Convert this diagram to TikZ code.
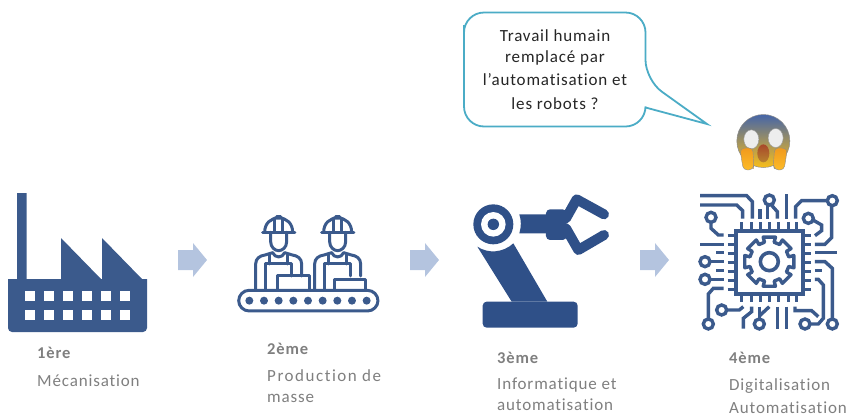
\documentclass[tikz,border=0pt]{standalone}
\usepackage{fontspec}
\setmainfont{Carlito}
\newfontfamily\lblfont[LetterSpace=5,Ligatures=NoCommon]{Carlito}
\newfontfamily\lblwide[LetterSpace=9,Ligatures=NoCommon]{Carlito}
\usetikzlibrary{calc}
\definecolor{icon}{HTML}{3B5A8C}
\definecolor{robotc}{HTML}{2F5088}
\definecolor{arrowc}{HTML}{B4C4DF}
\definecolor{lbl}{HTML}{7F7F7F}
\definecolor{bub}{HTML}{4BACC6}
\definecolor{emtop}{HTML}{4565A8}
\definecolor{emmid}{HTML}{F5C820}
\definecolor{embot}{HTML}{F9BE18}
\definecolor{emhand}{HTML}{F09A1E}
\definecolor{emhandb}{HTML}{FDBB28}
\definecolor{emmouth}{HTML}{A8482A}
\definecolor{emmouthb}{HTML}{B8822E}
\tikzset{
  lab/.style={inner sep=0pt,anchor=base west,text=lbl,font=\lblfont\fontsize{17}{18}\selectfont},
  labw/.style={lab,font=\lblwide\fontsize{17}{18}\selectfont},
  labb/.style={lab,font=\lblfont\bfseries\fontsize{16.5}{18}\selectfont},
  blockarrow/.style={fill=arrowc,draw=none},
  wline/.style={draw=icon,line width=3pt,line join=round,line cap=round,fill=none},
  cline/.style={draw=icon,line width=3.4pt,line join=miter,fill=none},
  cpin/.style={draw=icon,line width=3pt},
  bubtext/.style={inner sep=0pt,text=black!85,font=\lblfont\fontsize{17}{18}\selectfont}
}
\newcommand{\worker}[1]{%
\begin{scope}[shift={(#1,0)}]
  \draw[wline] (128,127) -- (225,127);
  \draw[wline] (134,127) .. controls (134,100) and (152,84) .. (176,84) .. controls (200,84) and (218,100) .. (218,127);
  \draw[wline] (165,127) -- (165,84);
  \draw[wline] (187,127) -- (187,84);
  \draw[wline] (170,78) -- (182,78);
  \draw[wline] (152,127) -- (152,155) .. controls (152,172) and (165,182) .. (176,182) .. controls (187,182) and (200,172) .. (200,155) -- (200,127);
  \draw[wline] (107,298) -- (107,222) .. controls (107,205) and (120,197) .. (135,195) -- (158,188) .. controls (165,205) and (187,205) .. (194,188) -- (217,195) .. controls (232,197) and (245,205) .. (245,222) -- (245,258);
  \draw[wline] (137,298) -- (137,222) -- (215,222) -- (215,258);
  \draw[wline] (150,195) -- (150,222);
  \draw[wline] (203,195) -- (203,222);
\end{scope}}
\begin{document}
\begin{tikzpicture}[x=1pt,y=-1pt]
\useasboundingbox (0,0) rectangle (852,416);
% factory
\fill[icon] (17,193) -- (26.5,193) -- (26.5,279) -- (61,279) -- (61,238) -- (101,279) -- (102,279) -- (102,238) -- (142,279) -- (147,279) -- (147,328) arc[start angle=0,end angle=90,radius=4] -- (12,332) arc[start angle=90,end angle=180,radius=4] -- (8,279) -- (17,279) -- cycle;
\foreach \x in {25,44,63,82,101,120}
  \foreach \y in {291,310}
    \fill[white] (\x,\y) rectangle ++(10,10);
% block arrows
\foreach \n/\x in {a/178,b/410,c/640}
  \fill[blockarrow] (\x,250) -- ++(15,0) -- ++(0,-7) -- ++(14,17) -- ++(-14,17) -- ++(0,-7) -- ++(-15,0) -- cycle;
% workers
\begin{scope}[shift={(220,190)},x=0.3333pt,y=-0.3333pt]
  \worker{0}
  \worker{177}
  \draw[wline] (172,298) -- (172,258) -- (268,258) -- (268,298);
  \draw[wline] (343,298) -- (343,270) -- (437,270) -- (437,298);
  \draw[draw=icon,line width=3pt,rounded corners=10.5pt] (56,301) rectangle (474,363);
  \foreach \x in {88,132,176,220,264,308,352,396,440}
    \fill[icon] (\x,332) circle[radius=4pt];
\end{scope}
% robot
\begin{scope}[shift={(460,180)},x=0.3333pt,y=-0.3333pt]
  \fill[robotc] (100,133) circle[radius=20pt];
  \fill[white] (100,133) circle[radius=12.3pt];
  \fill[robotc] (100,133) circle[radius=5.7pt];
  \fill[robotc] (52,200) .. controls (85,222) and (130,218) .. (160,190) -- (262,365) -- (155,365) -- cycle;
  \fill[robotc,rounded corners=4pt] (68,365) rectangle (353,443);
  \fill[robotc] (178,103) -- (262,103) -- (262,160) -- (178,160) .. controls (184,140) and (184,122) .. (178,103) -- cycle;
  \fill[robotc,rounded corners=4pt] (258,88) rectangle (320,180);
  \draw[robotc,line width=10pt,line cap=round,line join=round] (318,115) -- (350,58) -- (432,103);
  \draw[robotc,line width=10pt,line cap=round,line join=round] (318,145) -- (355,210) -- (432,165);
\end{scope}
% chip
\begin{scope}[shift={(690,190)},x=0.3333pt,y=-0.3333pt]
  \draw[cline,line width=4pt] (137,122) rectangle (338,313);
  \foreach \x in {155,183,211,239,267,295,320} {
    \draw[cpin] (\x,97) -- (\x,116);
    \draw[cpin] (\x,319) -- (\x,336);
  }
  \foreach \y in {135,163,190,217,245,272,300} {
    \draw[cpin] (113,\y) -- (131,\y);
    \draw[cpin] (344,\y) -- (362,\y);
  }
  % gear
  \draw[icon,line width=3.6pt] (238,215) circle[radius=9pt];
  \foreach \a in {0,45,...,315}
    \draw[cline,line width=3.4pt,line join=round,line cap=round]
      ($(238,215)+(\a-31:60)$) -- ($(238,215)+(\a-14:60)$) -- ($(238,215)+(\a-14:76)$) -- ($(238,215)+(\a+14:76)$) -- ($(238,215)+(\a+14:60)$);
  % traces
  \draw[cline] (30,17) -- (170,17) -- (187,35) -- (187,86);
  \draw[cline] (30,45) -- (140,45) -- (158,62) -- (158,86);
  \draw[cline] (238,30) circle[radius=5pt];
  \draw[cline] (232,46) -- (232,86);
  \draw[cline] (245,46) -- (262,65) -- (262,86);
  \draw[cline] (210,58) -- (210,86);
  \draw[cline] (290,12) -- (290,86);
  \draw[cline] (427,32) circle[radius=5pt];
  \draw[cline] (412,32) -- (335,32) -- (317,50) -- (317,86);
  \draw[cline] (63,82) circle[radius=5pt];
  \draw[cline] (63,97) -- (63,115) -- (85,135) -- (101,135);
  \draw[cline] (355,85) circle[radius=5pt];
  \draw[cline] (369,90) -- (395,105) -- (395,122) -- (375,137);
  \draw[cline] (375,163) -- (405,163) -- (425,143) -- (425,47);
  \draw[cline] (375,187) -- (442,187);
  \draw[cline] (30,163) -- (101,163);
  \draw[cline] (78,187) -- (101,187);
  \draw[cline] (45,215) circle[radius=5pt];
  \draw[cline] (60,215) -- (101,215);
  \draw[cline] (78,242) -- (101,242);
  \draw[cline] (45,268) circle[radius=5pt];
  \draw[cline] (60,268) -- (101,268);
  \draw[cline] (375,215) -- (405,215) -- (427,235) -- (427,387);
  \draw[cline] (427,402) circle[radius=5pt];
  \draw[cline] (375,242) -- (397,242);
  \draw[cline] (375,268) -- (385,268) -- (400,285) -- (400,385) -- (385,402) -- (360,402);
  \draw[cline] (345,402) circle[radius=5pt];
  \draw[cline] (101,295) -- (70,295) -- (55,312) -- (55,387);
  \draw[cline] (55,402) circle[radius=5pt];
  \draw[cline] (95,360) circle[radius=5pt];
  \draw[cline] (110,360) -- (148,360) -- (160,350);
  \draw[cline] (185,350) -- (185,365) -- (160,385) -- (160,416);
  \draw[cline] (208,402) circle[radius=5pt];
  \draw[cline] (208,350) -- (208,387);
  \draw[cline] (238,350) -- (208,378);
  \draw[cline] (262,350) -- (262,416);
  \draw[cline] (290,350) -- (290,416);
  \draw[cline] (315,350) -- (315,362) -- (365,362) -- (385,380);
\end{scope}
% emoji
\begin{scope}[shift={(690,110)},x=0.3333pt,y=-0.3333pt]
  \shade[top color=emtop,middle color=emmid,bottom color=embot,draw=black!45,line width=.5pt] (220,93) circle[radius=26.5pt];
  \fill[white!93!black,draw=black!40,line width=.4pt] (184,88) ellipse[x radius=7.5pt,y radius=9.5pt];
  \fill[white!93!black,draw=black!40,line width=.4pt] (257,84) ellipse[x radius=7.5pt,y radius=9.5pt];
  \shade[top color=emmouth,bottom color=emmouthb] (220,130) ellipse[x radius=6pt,y radius=9pt];
  \shade[top color=emhand,bottom color=emhandb,draw=black!45,line width=.4pt,rounded corners=4pt] (150,115) -- (188,113) -- (192,165) -- (188,180) -- (160,180) -- (155,150) -- cycle;
  \shade[top color=emhand,bottom color=emhandb,draw=black!45,line width=.4pt,rounded corners=4pt] (292,115) -- (254,113) -- (250,165) -- (254,180) -- (282,180) -- (287,150) -- cycle;
\end{scope}
% bubble
\draw[bub,line width=1.8pt,rounded corners=20pt,fill=white] (464,45) -- (464,12.5) -- (645.5,12.5) -- (645.5,80) [sharp corners] -- (707,124) -- (645.5,107.5) [rounded corners=20pt] -- (645.5,126.5) -- (464,126.5) -- cycle;
\node[bubtext] (t1) at (555,36) {Travail humain};
\node[bubtext] (t2) at (555,58) {remplacé par};
\node[bubtext] (t3) at (555,80) {l’automatisation et};
\node[bubtext] (t4) at (555,104) {les robots ?};
% labels
\node[labb] (l1a) at (37,358) {1ère};
\node[lab] (l1b) at (37,386) {Mécanisation};
\node[labb] (l2a) at (267,354) {2ème};
\node[labw] (l2b) at (267,381) {Production de};
\node[lab] (l2c) at (267,402) {masse};
\node[labb] (l3a) at (497,363) {3ème};
\node[lab] (l3b) at (497,389) {Informatique et};
\node[lab] (l3c) at (497,410) {automatisation};
\node[labb] (l4a) at (729,363) {4ème};
\node[lab] (l4b) at (729,390) {Digitalisation};
\node[lab] (l4c) at (729,413) {Automatisation};
\end{tikzpicture}
\end{document}
